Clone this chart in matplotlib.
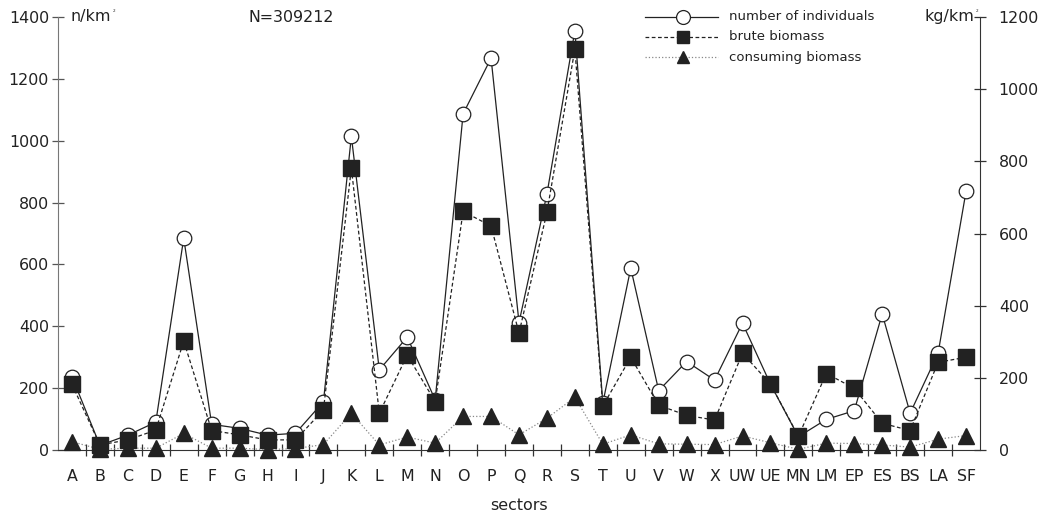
import matplotlib
matplotlib.use("Agg")
import matplotlib.pyplot as plt
from matplotlib.lines import Line2D
import numpy as np

categories = ['A','B','C','D','E','F','G','H','I','J','K','L','M','N','O','P','Q','R','S',
              'T','U','V','W','X','UW','UE','MN','LM','EP','ES','BS','LA','SF']

individuals = [237, 15, 48, 90, 685, 83, 70, 48, 54, 156, 1014, 259, 365, 162, 1087, 1267,
               412, 828, 1356, 152, 588, 192, 286, 226, 410, 213, 43, 99, 127, 440, 119, 313, 836]

brute_biomass = [182, 14, 28, 55, 302, 54, 42, 28, 28, 111, 781, 102, 263, 134, 661, 621,
                 324, 659, 1111, 122, 257, 124, 96, 83, 268, 183, 38, 212, 171, 74, 54, 243, 257]

consuming_biomass = [23, 2, 5, 5, 46, 5, 5, 1, 4, 15, 102, 14, 36, 19, 93, 93,
                     42, 88, 146, 16, 42, 17, 16, 15, 39, 20, 2, 19, 18, 14, 8, 30, 40]

left_ticks = [0, 200, 400, 600, 800, 1000, 1200, 1400]
right_ticks = [0, 200, 400, 600, 800, 1000, 1200]

plt.rcParams['font.family'] = ['DejaVu Sans']
W, H = 1052, 514
fig = plt.figure(figsize=(W / 100, H / 100), dpi=100)
ax = fig.add_axes([58 / W, 1 - 450 / H, (980 - 58) / W, (450 - 17) / H])
ax2 = ax.twinx()

x = np.arange(len(categories))
fs = 11.4
tc = '#222222'

# individuals on left axis
ax.plot(x, individuals, '-', color=tc, lw=0.9, marker='o', ms=10.5,
        mfc='white', mec=tc, mew=0.9, zorder=3, clip_on=False)
ax.set_ylim(0, 1400)
ax.set_xlim(-0.5, len(categories) - 0.5)
ax2.set_ylim(0, 1200)

ax2.plot(x, consuming_biomass, ':', color='#888888', lw=0.9, marker='^', ms=11,
         mfc=tc, mec=tc, zorder=3, clip_on=False)
ax2.plot(x, brute_biomass, '--', color=tc, lw=0.9, dashes=(3, 2), marker='s', ms=11.5,
         mfc=tc, mec=tc, zorder=4, clip_on=False)

for a in (ax, ax2):
    a.spines['top'].set_visible(False)
ax.spines['right'].set_visible(False)
ax2.spines['left'].set_visible(False)
ax2.spines['bottom'].set_visible(False)
ax.spines['left'].set_color('#777777')
ax.spines['bottom'].set_color('#333333')
ax2.spines['right'].set_color('#333333')

ax.set_yticks(left_ticks)
ax.set_yticklabels([str(v) for v in left_ticks], fontsize=fs, color=tc)
ax.tick_params(axis='y', direction='inout', length=9, width=0.9, color='#555555', pad=2)
ax2.set_yticks(right_ticks)
ax2.set_yticklabels([str(v) for v in right_ticks], fontsize=fs, color=tc)
ax2.tick_params(axis='y', direction='inout', length=9, width=0.9, color='#333333', pad=9)

ax.set_xticks(x)
ax.set_xticklabels(categories, fontsize=fs, color=tc)
ax.set_xticks(np.arange(len(categories) - 1) + 0.5, minor=True)
ax.tick_params(axis='x', which='major', length=0, pad=14)
ax.tick_params(axis='x', which='minor', direction='inout', length=9, width=0.9, color='#333333')
ax.set_xlabel('sectors', fontsize=fs, color=tc, labelpad=10)

# axis unit labels and N
fig.text(70 / W, 1 - 17 / H, 'n/km', fontsize=fs, va='center', ha='left', color=tc)
fig.text(113 / W, 1 - 11 / H, '2', fontsize=3, va='center', ha='left', color=tc)
fig.text(248 / W, 1 - 17 / H, 'N=309212', fontsize=fs, va='center', ha='left', color=tc)
fig.text(925 / W, 1 - 17 / H, 'kg/km', fontsize=fs, va='center', ha='left', color=tc)
fig.text(976 / W, 1 - 11 / H, '2', fontsize=3, va='center', ha='left', color=tc)

# legend drawn manually
rows = [
    ('number of individuals', dict(ls='-', color=tc, lw=0.9),
     dict(marker='o', ms=10, mfc='white', mec=tc, mew=0.9)),
    ('brute biomass', dict(ls='--', dashes=(3, 2), color=tc, lw=0.9),
     dict(marker='s', ms=8, mfc=tc, mec=tc)),
    ('consuming biomass', dict(ls=':', color='#888888', lw=0.9),
     dict(marker='^', ms=8.5, mfc=tc, mec=tc)),
]
ys = [17, 37, 57]
for (label, lkw, mkw), yy in zip(rows, ys):
    yf = 1 - yy / H
    fig.add_artist(Line2D([645 / W, 718 / W], [yf, yf], transform=fig.transFigure, **lkw))
    fig.add_artist(Line2D([683 / W], [yf], transform=fig.transFigure, ls='none', **mkw))
    fig.text(729 / W, yf, label, fontsize=9.5, va='center', ha='left', color=tc)

fig.savefig('out.png', dpi=100)
